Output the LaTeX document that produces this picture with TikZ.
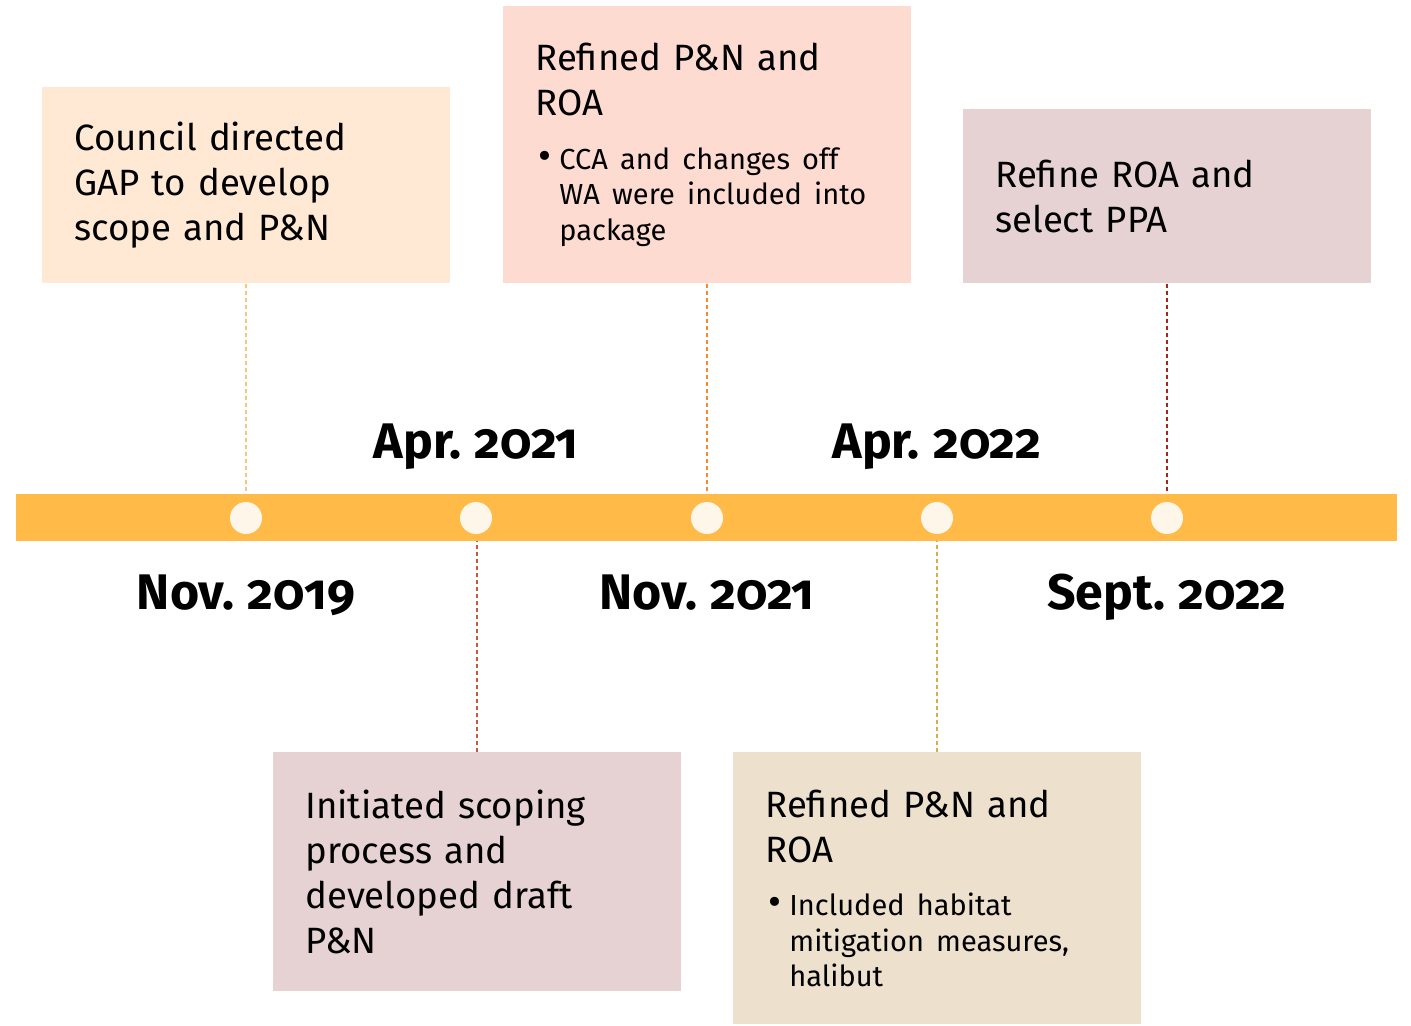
\documentclass[tikz,border=0pt]{standalone}
\usepackage{fontspec}
\setmainfont{Fira Sans}[Numbers=OldStyle, WordSpace=0.8]
\usetikzlibrary{calc}

\definecolor{barfill}{HTML}{FFBA47}
\definecolor{dotfill}{HTML}{FFF6EA}
\definecolor{peach}{HTML}{FFE9D4}
\definecolor{salmon}{HTML}{FDDBD1}
\definecolor{rose}{HTML}{E6D2D2}
\definecolor{sand}{HTML}{EDE0CC}
\definecolor{lnA}{HTML}{F8C57A}
\definecolor{lnB}{HTML}{C55A3F}
\definecolor{lnC}{HTML}{F58B2E}
\definecolor{lnD}{HTML}{D6AE4A}
\definecolor{lnE}{HTML}{A3271B}

\newcommand\bitem[1]{\par\vspace{9pt}{\fontsize{14.5}{17.75}\selectfont
  \leftskip=12pt\noindent\llap{{\fontsize{20}{0}\selectfont\textbullet}\hspace{4pt}}#1\par}}

\begin{document}
\begin{tikzpicture}[x=0.5pt,y=-0.5pt,
  box/.style={anchor=north west, minimum width=204pt, inner xsep=16pt, inner ysep=0pt,
    text width=172pt, align=left, font=\fontsize{18.3}{22.5}\selectfont},
  dot/.style={circle, fill=dotfill, minimum size=16pt, inner sep=0pt},
  date/.style={anchor=base, font=\fontsize{25}{30}\selectfont\bfseries},
  link/.style={dash pattern=on 2pt off 1.5pt, line width=1pt}]
\useasboundingbox (0,0) rectangle (1411,1025);

% timeline
\node[fill=barfill, minimum width=690.5pt, minimum height=23.5pt, inner sep=0pt] (bar) at (706.5,517.5) {};
\foreach \i/\x in {1/246, 2/476, 3/707, 4/937, 5/1167}
  \node[dot] (d\i) at (\x,518) {};

% events
\node[box, fill=peach, minimum height=98pt] (b1) at (42,87)
  {Council directed\\GAP to develop\\scope and P\&N};
\node[box, fill=rose, minimum height=119.5pt] (b2) at (273,752)
  {Initiated scoping\\process and\\developed draft\\P\&N};
\node[box, fill=salmon, minimum height=138.5pt] (b3) at (503,6)
  {Refined P\&N and\\ROA\bitem{CCA and changes off\\WA were included into\\package}};
\node[box, fill=sand, minimum height=136pt] (b4) at (733,752)
  {Refined P\&N and\\ROA\bitem{Included habitat\\mitigation measures,\\halibut}};
\node[box, fill=rose, minimum height=87pt] (b5) at (963,109)
  {Refine ROA and\\select PPA};

% dates
\node[date] (t1) at (246,609) {Nov. 2019};
\node[date] (t2) at (476,458) {Apr. 2021};
\node[date] (t3) at (707,609) {Nov. 2021};
\node[date] (t4) at (937,458) {Apr. 2022};
\node[date] (t5) at (1167,609) {Sept. 2022};

% links
\draw[link, color=lnA] (b1.south) -- (b1.south |- bar.north);
\draw[link, color=lnB] (b2.north) -- (b2.north |- bar.south);
\draw[link, color=lnC] (b3.south) -- (b3.south |- bar.north);
\draw[link, color=lnD] (b4.north) -- (b4.north |- bar.south);
\draw[link, color=lnE] (b5.south) -- (b5.south |- bar.north);
\end{tikzpicture}
\end{document}
